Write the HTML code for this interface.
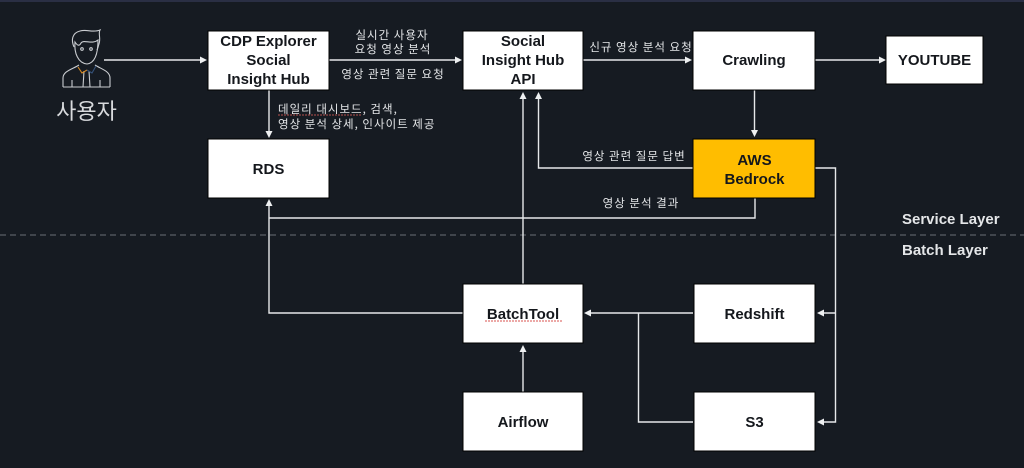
<!DOCTYPE html>
<html><head><meta charset="utf-8"><style>
html,body{margin:0;padding:0;background:#161b22}
svg{display:block;filter:blur(.3px)}
text{font-family:"Liberation Sans","Noto Sans CJK KR",sans-serif}
.b{font-size:15px;font-weight:700;fill:#14171c;text-anchor:middle}
.k{font-size:11.5px;letter-spacing:1px;fill:#e4e6e8;text-anchor:middle;font-family:"Noto Sans CJK KR","NanumGothic",sans-serif}
.s{text-anchor:start}
.l{fill:none;stroke:#e6e8ea;stroke-width:1.4}
.a{fill:#eef0f1}
.r{fill:#fff;stroke:#000;stroke-width:1}
</style></head><body>
<svg width="1024" height="468" viewBox="0 0 1024 468" xmlns="http://www.w3.org/2000/svg">
<rect width="1024" height="468" fill="#161b22"/>
<rect width="1024" height="2" fill="#2a2f44"/>
<line x1="0" y1="235" x2="1024" y2="235" stroke="#6b6f75" stroke-width="1" stroke-dasharray="6 4"/>

<!-- connectors -->
<path class="l" d="M104 60H203M329 60H458M583 60H688M815 60H881M754.500 89V133M269 89V134"/>
<path class="l" d="M693 168H538.500V96M523 284V96M755 198V218H269V203M463 313H269V203"/>
<path class="l" d="M815 168H835.500V422H821M835.500 313H821M693 313H589M693 422H638.500V313M523 392V349"/>
<!-- arrowheads -->
<path class="a" d="M207 60l-7-3.500v7zM462 60l-7-3.500v7zM692 60l-7-3.500v7zM886 60l-7-3.500v7z"/>
<path class="a" d="M269 138l-3.500-7h7zM754.500 137l-3.500-7h7z"/>
<path class="a" d="M523 92l-3.500 7h7zM538.500 92l-3.500 7h7zM269 199l-3.500 7h7zM523 345l-3.500 7h7z"/>
<path class="a" d="M817 313l7-3.500v7zM817 422l7-3.500v7zM584 313l7-3.500v7z"/>

<!-- boxes -->
<rect class="r" x="208" y="31" width="121" height="59"/>
<rect class="r" x="208" y="139" width="121" height="59"/>
<rect class="r" x="463" y="31" width="120" height="59"/>
<rect class="r" x="693" y="31" width="122" height="59"/>
<rect class="r" x="886" y="36" width="97" height="48"/>
<rect x="693" y="139" width="122" height="59" fill="#ffbd00" stroke="#000"/>
<rect class="r" x="463" y="284" width="120" height="59"/>
<rect class="r" x="694" y="284" width="121" height="59"/>
<rect class="r" x="463" y="392" width="120" height="59"/>
<rect class="r" x="694" y="392" width="121" height="59"/>

<!-- box labels -->
<text class="b" x="268.500" y="46">CDP Explorer</text>
<text class="b" x="268.500" y="65">Social</text>
<text class="b" x="268.500" y="84">Insight Hub</text>
<text class="b" x="268.500" y="174">RDS</text>
<text class="b" x="523" y="46">Social</text>
<text class="b" x="523" y="65">Insight Hub</text>
<text class="b" x="523" y="84">API</text>
<text class="b" x="754" y="65">Crawling</text>
<text class="b" x="934.500" y="65">YOUTUBE</text>
<text class="b" x="754.500" y="165">AWS</text>
<text class="b" x="754.500" y="184">Bedrock</text>
<text class="b" x="523" y="319">BatchTool</text>
<path d="M485 321H562" stroke="#d9534f" stroke-width="1" stroke-dasharray="2 1" fill="none"/>
<text class="b" x="754.500" y="319">Redshift</text>
<text class="b" x="523" y="427">Airflow</text>
<text class="b" x="754.500" y="427">S3</text>

<!-- edge labels -->
<text class="k" x="392" y="39">실시간 사용자</text>
<text class="k" x="393" y="53">요청 영상 분석</text>
<text class="k" x="393" y="78">영상 관련 질문 요청</text>
<text class="k" x="641" y="51">신규 영상 분석 요청</text>
<text class="k s" x="278" y="113">데일리 대시보드, 검색,</text>
<path d="M278 115H362" stroke="#b5524f" stroke-width="1" stroke-dasharray="2 1" fill="none"/>
<text class="k s" x="278" y="128">영상 분석 상세, 인사이트 제공</text>
<text class="k" x="634" y="160">영상 관련 질문 답변</text>
<text class="k" x="641" y="207">영상 분석 결과</text>

<!-- layer labels -->
<text x="902" y="224" font-size="15" font-weight="700" fill="#e4e6e8">Service Layer</text>
<text x="902" y="255" font-size="15" font-weight="700" fill="#e4e6e8">Batch Layer</text>

<!-- user icon -->
<g fill="none" stroke="#c9ccd0" stroke-width="1.100">
<path d="M74 47C71 40 72 33 80 31C87 29 93 33 100 30C98 34 101 38 99 44C98 47 98 48 97 50"/>
<path d="M75 42C74 53 78 63 87 64C95 63 98 53 98 40C92 45 84 39 81 43C79 47 77 45 75 42Z"/>
<path d="M63 87V78C63 71 73 69 79 65M110 87V78C110 71 101 69 95 65M63 87H110"/>
<path d="M84 71L83 87M89 71L90 87M72 80V87M100 80V87"/>
<circle cx="82" cy="49" r="1.300"/><circle cx="91" cy="49" r="1.300"/>
</g>
<path d="M78 67L82 73L87 70" stroke="#d78a25" stroke-width="1.100" fill="none"/>
<path d="M96 66L92 73L87 70" stroke="#35527a" stroke-width="1.100" fill="none"/>
<text x="86.500" y="119" font-size="22" fill="#d8dadd" text-anchor="middle" style="font-family:'Noto Sans CJK KR',sans-serif">사용자</text>
</svg>
</body></html>
